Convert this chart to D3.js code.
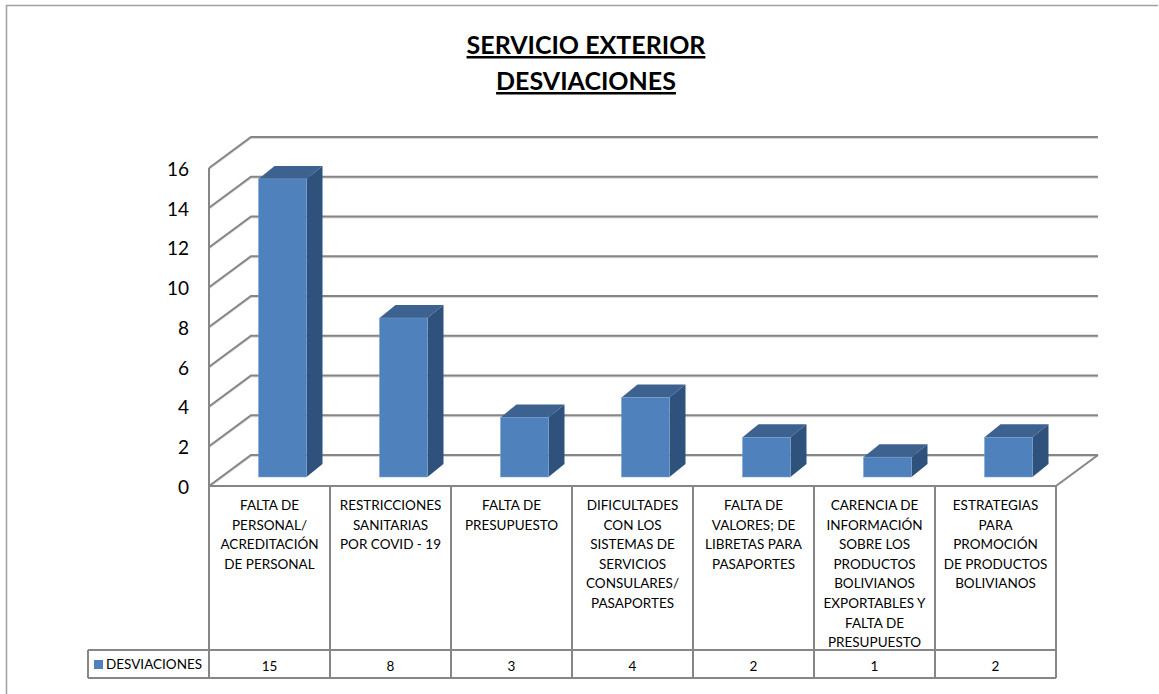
<!DOCTYPE html>
<html>
<head>
<meta charset="utf-8">
<script src="https://cdn.jsdelivr.net/npm/d3@7"></script>
<style>
  html, body { margin: 0; padding: 0; background: #fff; overflow: hidden; }
  svg { display: block; }
  text { font-family: Lato, "Open Sans", sans-serif; fill: #000; }
</style>
</head>
<body>
<script>
var categories = ["c1", "c2", "c3", "c4", "c5", "c6", "c7"];
var values = [15, 8, 3, 4, 2, 1, 2];
var labelLines = [
  ["FALTA DE", "PERSONAL/", "ACREDITACIÓN", "DE PERSONAL"],
  ["RESTRICCIONES", "SANITARIAS", "POR COVID - 19"],
  ["FALTA DE", "PRESUPUESTO"],
  ["DIFICULTADES", "CON LOS", "SISTEMAS DE", "SERVICIOS", "CONSULARES/", "PASAPORTES"],
  ["FALTA DE", "VALORES; DE", "LIBRETAS PARA", "PASAPORTES"],
  ["CARENCIA DE", "INFORMACIÓN", "SOBRE LOS", "PRODUCTOS", "BOLIVIANOS", "EXPORTABLES Y", "FALTA DE", "PRESUPUESTO"],
  ["ESTRATEGIAS", "PARA", "PROMOCIÓN", "DE PRODUCTOS", "BOLIVIANOS"]
];
var yTicks = [0, 2, 4, 6, 8, 10, 12, 14, 16];
var titleLines = ["SERVICIO EXTERIOR", "DESVIACIONES"];
var seriesName = "DESVIACIONES";

var w = 1159;
var h = 694;
var gray = "#868686";

var svg = d3.select("body").append("svg").attr("width", w).attr("height", h);

var x = d3.scaleBand().domain(categories).range([209, 1056]);
var y = d3.scaleLinear().domain([0, 16]).range([486, 168]);

// profundidad del piso y de las barras
var wallDx = 42, wallDy = -31;
var barDx = 16, barDy = -13;
var barW = 48, barShiftX = 49.5, barShiftY = -9;

// marco
svg.append("path")
  .attr("d", "M6.5,694V5.5H1158")
  .attr("fill", "none").attr("stroke", "#a0a0a0").attr("stroke-width", 1.5);

// titulo
titleLines.forEach(function(t, i) {
  svg.append("text")
    .attr("x", 586).attr("y", 54 + i * 36)
    .attr("text-anchor", "middle")
    .attr("font-size", "25px").attr("font-weight", "bold")
    .attr("text-decoration", "underline")
    .text(t);
});

// paredes
var grid = svg.append("g").attr("fill", "none");
grid.selectAll("path.shadow")
  .data(yTicks).enter().append("path")
  .attr("class", "shadow")
  .attr("stroke", "#d9d9d9").attr("stroke-width", 2)
  .attr("d", function(d) {
    var yy = y(d) + 1;
    return "M209," + yy + "L" + (209 + wallDx) + "," + (yy + wallDy) + "H" + (1056 + wallDx);
  });
grid.selectAll("path.line")
  .data(yTicks).enter().append("path")
  .attr("class", "line")
  .attr("stroke", gray).attr("stroke-width", 2)
  .attr("d", function(d) {
    return "M209," + y(d) + "L" + (209 + wallDx) + "," + (y(d) + wallDy) + "H" + (1056 + wallDx);
  });
grid.append("path")
  .attr("stroke", gray).attr("stroke-width", 2)
  .attr("d", "M1056," + y(0) + "L" + (1056 + wallDx) + "," + (y(0) + wallDy));

// barras
var bars = svg.selectAll("g.bar")
  .data(values).enter().append("g").attr("class", "bar")
  .attr("transform", function(d, i) {
    return "translate(" + (x(categories[i]) + barShiftX) + "," + barShiftY + ")";
  });

bars.append("path")
  .attr("fill", "#3d6290")
  .attr("d", function(d) {
    var t = y(d);
    return "M0," + t + "l" + barDx + "," + barDy + "h" + barW + "l" + (-barDx) + "," + (-barDy) + "z";
  });
bars.append("path")
  .attr("fill", "#2f527d")
  .attr("d", function(d) {
    var t = y(d), b = y(0);
    return "M" + barW + "," + t + "l" + barDx + "," + barDy + "V" + (b + barDy) + "l" + (-barDx) + "," + (-barDy) + "z";
  });
bars.append("rect")
  .attr("x", 0)
  .attr("y", function(d) { return y(d); })
  .attr("width", barW)
  .attr("height", function(d) { return y(0) - y(d); })
  .attr("fill", "#4f81bd")
  .attr("stroke", "#7ba2d0").attr("stroke-width", 0.5);

// eje y
var yAxis = d3.axisLeft(y).tickValues(yTicks).tickSize(0).tickPadding(20);
var axisG = svg.append("g").attr("transform", "translate(209,1)").call(yAxis);
axisG.select(".domain").remove();
axisG.selectAll("text")
  .style("font-family", "Lato, sans-serif")
  .attr("font-size", "19px").attr("dy", "0.34em");
svg.append("line")
  .attr("x1", 209).attr("x2", 209).attr("y1", y(16)).attr("y2", y(0))
  .attr("stroke", gray).attr("stroke-width", 2);

// tabla de datos
var rowTop = 486, rowMid = 650, rowBot = 678;
var table = svg.append("g").attr("stroke", gray).attr("stroke-width", 2).attr("fill", "none");
table.append("path").attr("d", "M209," + rowTop + "H1056");
table.append("path").attr("d", "M88," + rowMid + "H1056");
table.append("path").attr("d", "M88," + rowBot + "H1056");
table.append("path").attr("d", "M88," + rowMid + "V" + rowBot);
table.selectAll("line")
  .data(categories.concat(["end"])).enter().append("line")
  .attr("x1", function(d, i) { return 209 + i * x.bandwidth(); })
  .attr("x2", function(d, i) { return 209 + i * x.bandwidth(); })
  .attr("y1", rowTop).attr("y2", rowBot);

// etiquetas de categoria
var cells = svg.selectAll("g.cell")
  .data(categories).enter().append("g").attr("class", "cell")
  .attr("transform", function(d) { return "translate(" + (x(d) + x.bandwidth() / 2) + ",0)"; });

cells.each(function(d, i) {
  d3.select(this).selectAll("text")
    .data(labelLines[i]).enter().append("text")
    .attr("text-anchor", "middle")
    .attr("font-size", "13.5px")
    .attr("y", function(l, j) { return 510 + j * 19.6; })
    .text(function(l) { return l; });
  d3.select(this).append("text")
    .attr("text-anchor", "middle")
    .attr("font-size", "13.5px")
    .attr("y", 671)
    .text(values[i]);
});

// leyenda
svg.append("rect")
  .attr("x", 94).attr("y", 660).attr("width", 9).attr("height", 9)
  .attr("fill", "#4f81bd");
svg.append("text")
  .attr("x", 106).attr("y", 669)
  .attr("font-size", "13.5px")
  .text(seriesName);
</script>
</body>
</html>
